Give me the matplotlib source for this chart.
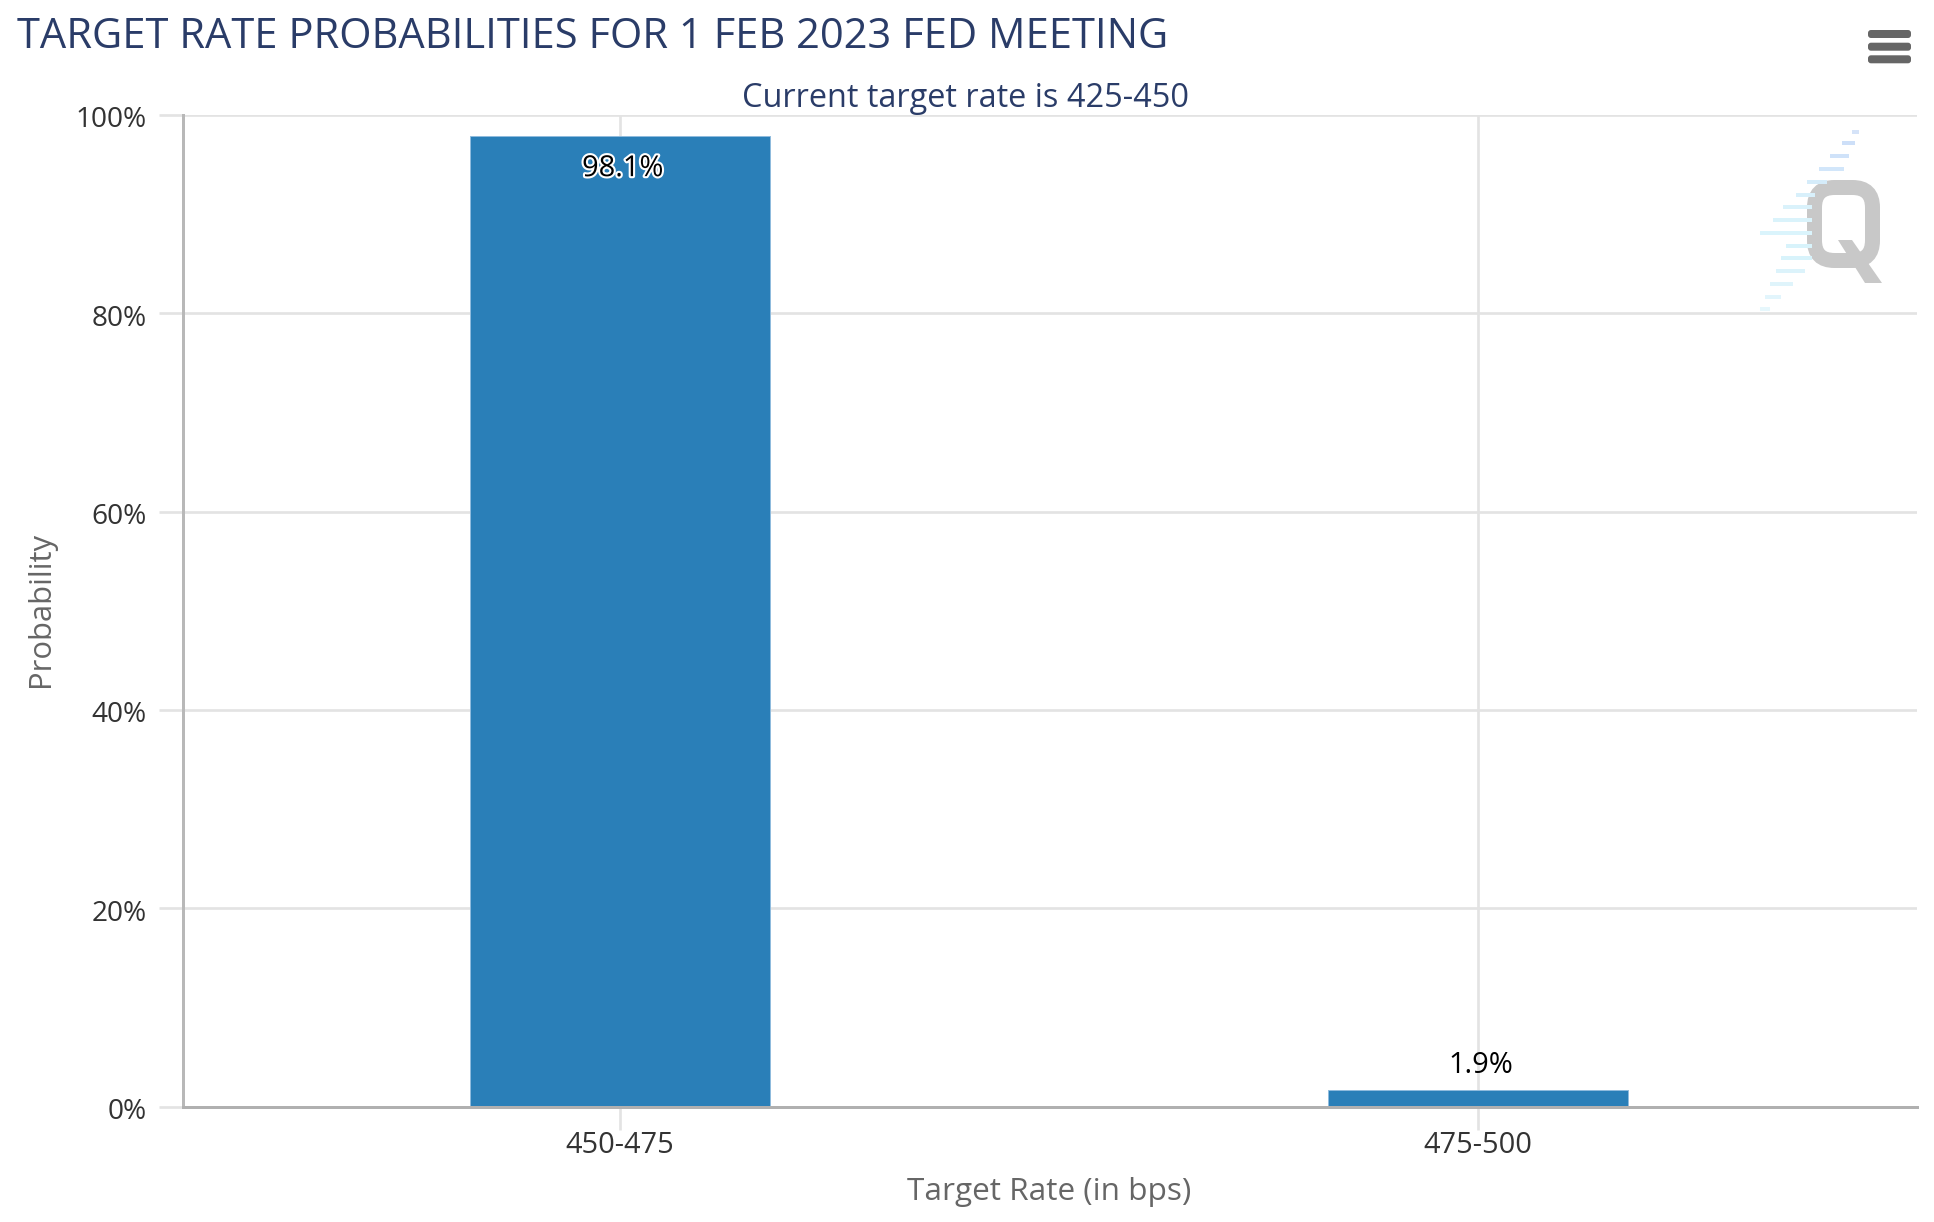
import matplotlib
matplotlib.use("Agg")
from matplotlib import pyplot as plt
from matplotlib import patheffects
from matplotlib.patches import FancyBboxPatch, Polygon
from matplotlib.transforms import Affine2D, ScaledTranslation

categories = ["450-475", "475-500"]
probabilities = [98.1, 1.9]
labels = ["98.1%", "1.9%"]
y_ticks = [0, 20, 40, 60, 80, 100]
y_tick_labels = ["0%", "20%", "40%", "60%", "80%", "100%"]

title = "TARGET RATE PROBABILITIES FOR 1 FEB 2023 FED MEETING"
subtitle = "Current target rate is 425-450"

# watermark stripes as left, right, y in picture pixels
logo_stripes = [
    (1854, 1857, 132, "#d5e3f8"), (1844, 1853, 143, "#cddff8"), (1832, 1847, 156, "#cfe2f9"),
    (1821, 1842, 169, "#d2e6fa"), (1809, 1825, 182, "#d5ecfa"), (1798, 1813, 195, "#d8f0fb"),
    (1785, 1810, 207, "#daf2fb"), (1775, 1810, 220, "#daf3fb"), (1762, 1810, 233, "#daf4fc"),
    (1788, 1810, 246, "#d8f3fb"), (1783, 1810, 258, "#d8f3fb"), (1778, 1803, 271, "#dcf3fb"),
    (1772, 1791, 284, "#dff4fb"), (1767, 1779, 297, "#e2f5fc"), (1762, 1768, 309, "#e6f7fc"),
]

W, H = 1934, 1222
PX = 0.72  # points per picture pixel at dpi 100

plt.rcParams["font.family"] = ["Open Sans", "DejaVu Sans"]

fig = plt.figure(figsize=(W / 100, H / 100), dpi=100, facecolor="white")
ax = fig.add_axes([182.6 / W, 1 - 1106.7 / H, (1917 - 182.6) / W, (1106.7 - 114.8) / H])

positions = range(len(categories))
# bars sit a little under the axis line in the original
ax.bar(positions, probabilities, width=0.35, bottom=-0.22, color="#2a7fb8",
       edgecolor="#8fbbdd", linewidth=1 * PX)

ax.set_xlim(-0.51, 1.512)
ax.set_ylim(0, 100)
ax.set_yticks(y_ticks, y_tick_labels)
ax.set_xticks(list(positions), categories)
ax.set_axisbelow(True)
ax.grid(True, color="#e3e3e3", linewidth=2.7 * PX)
ax.tick_params(axis="y", length=23.6 * PX, width=2.7 * PX, color="#e3e3e3", pad=12 * PX,
               labelsize=28 * PX, labelcolor="#333333")
ax.tick_params(axis="x", length=23 * PX, width=2.7 * PX, color="#e3e3e3", pad=1 * PX,
               labelsize=29 * PX, labelcolor="#333333")

# y labels sit slightly below their gridlines
shift = ScaledTranslation(0, -2 * PX / 72, fig.dpi_scale_trans)
for lab in ax.get_yticklabels():
    lab.set_transform(lab.get_transform() + shift)

for side in ["top", "right"]:
    ax.spines[side].set_visible(False)
ax.spines["left"].set_color("#b8b8b8")
ax.spines["left"].set_linewidth(3 * PX)
ax.spines["bottom"].set_color("#b0b0b0")
ax.spines["bottom"].set_linewidth(3 * PX)

# value labels
ax.annotate(labels[0], (0, probabilities[0]), xytext=(2, -35 * PX), textcoords="offset points",
            ha="center", va="center", fontsize=29 * PX, color="black",
            path_effects=[patheffects.withStroke(linewidth=3, foreground="white")])
ax.annotate(labels[1], (1, probabilities[1]), xytext=(2, 22 * PX), textcoords="offset points",
            ha="center", va="center", fontsize=29 * PX, color="black")

# everything outside the plot is placed in picture pixels, y down
pix = Affine2D().scale(1, -1).translate(0, H)

fig.text(17, 48, title, transform=pix, fontsize=41.6 * PX, color="#2a3c68", ha="left", va="baseline")
fig.text(966, 107, subtitle, transform=pix, fontsize=32.5 * PX, color="#2a3c68", ha="center", va="baseline")
fig.text(1049, 1200, "Target Rate (in bps)", transform=pix, fontsize=31.5 * PX, color="#666666",
         ha="center", va="baseline")
fig.text(41, 609, "Probability", transform=pix, fontsize=31 * PX, color="#666666",
         ha="center", va="center", rotation=90)

# menu button
for y in [34, 46.7, 59.3]:
    fig.add_artist(FancyBboxPatch((1871, y - 1), 37, 2, boxstyle="round,pad=3", transform=pix,
                                  facecolor="#666666", edgecolor="none"))

# watermark logo
for x0, x1, y, c in logo_stripes:
    fig.add_artist(plt.Line2D([x0, x1], [y, y], transform=pix, color=c, linewidth=4 * PX))
fig.add_artist(FancyBboxPatch((1824.5, 197.5), 38, 53, boxstyle="round,pad=10,rounding_size=20", transform=pix,
                              facecolor="none", edgecolor="#c8c8c8", linewidth=15 * PX))
fig.add_artist(Polygon([(1838, 240), (1852, 240), (1882, 283), (1865, 283)], transform=pix,
                       facecolor="#c8c8c8", edgecolor="none"))

fig.savefig("out.png", dpi=100)
